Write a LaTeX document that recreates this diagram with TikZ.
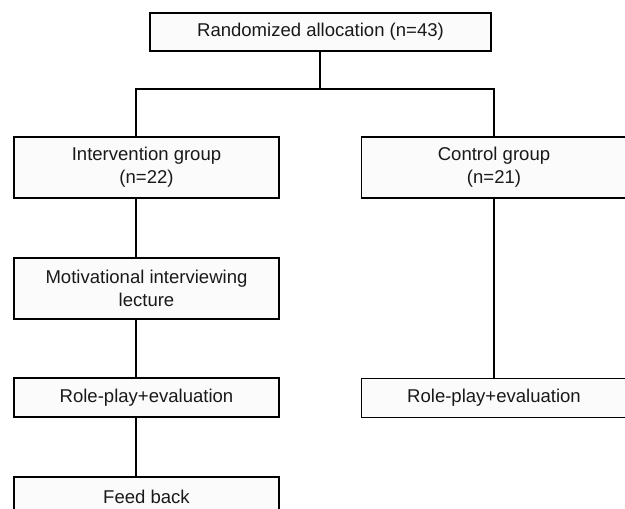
\documentclass[tikz,border=0pt]{standalone}
\usepackage{fontspec}
\setmainfont{Liberation Sans}
\begin{document}
\begin{tikzpicture}[x=0.75pt,y=-0.75pt,
  box/.style={draw=black,line width=0.9pt,fill=gray!3,rectangle,align=center,
    inner sep=0pt,font=\fontsize{13.9}{17.3}\selectfont,text=black!90},
  conn/.style={draw=black,line width=0.8pt}]
\useasboundingbox (0,0) rectangle (625,509);
\clip (0,0) rectangle (625,509);
\node[box,minimum width=255.75pt,minimum height=28.5pt] (top) at (320.5,32) {Randomized allocation (n=43)};
\node[box,minimum width=198.75pt,minimum height=45.75pt] (iv) at (146.5,167.5) {Intervention group\\(n=22)};
\node[box,minimum width=198.75pt,minimum height=45.75pt] (mi) at (146.5,288.5) {Motivational interviewing\\lecture};
\node[box,minimum width=198.75pt,minimum height=29.25pt] (rl) at (146.5,397.5) {Role-play+evaluation};
\node[box,minimum width=198.75pt,minimum height=29.25pt] (fb) at (146.5,496.5) {Feed back};
\node[box,minimum width=198.75pt,minimum height=45.75pt] (cg) at (494,167.5) {Control group\\(n=21)};
\node[box,minimum width=198.75pt,minimum height=29.25pt] (rr) at (494,398) {Role-play+evaluation};
\coordinate (j) at (320,89);
\coordinate (lx) at (136,0);
\draw[conn] (top.south -| j) -- (j);
\draw[conn] (iv.north -| lx) |- (j) -| (cg.north);
\draw[conn] (iv.south -| lx) -- (mi.north -| lx);
\draw[conn] (mi.south -| lx) -- (rl.north -| lx);
\draw[conn] (rl.south -| lx) -- (fb.north -| lx);
\draw[conn] (cg.south) -- (rr.north);
\end{tikzpicture}
\end{document}
